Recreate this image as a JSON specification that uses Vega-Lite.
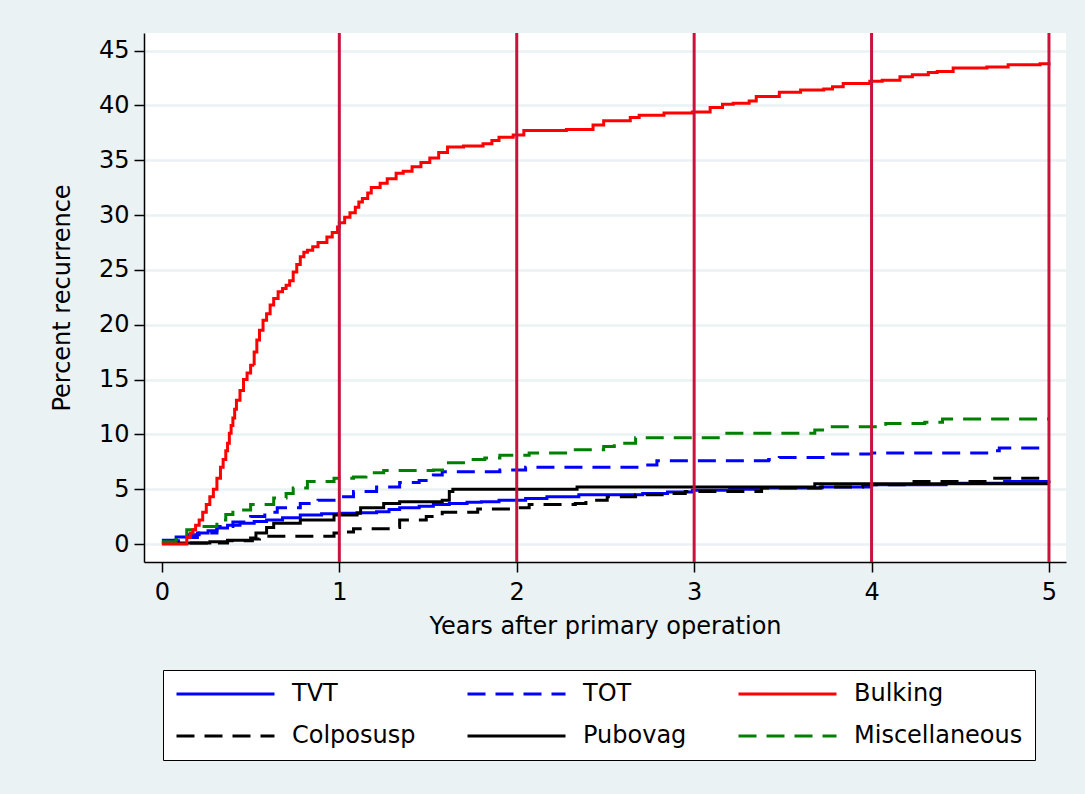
{
  "$schema": "https://vega.github.io/schema/vega-lite/v6.json",
  "autosize": {"type": "none"},
  "width": 922,
  "height": 529,
  "padding": {"left": 144, "top": 33, "right": 19, "bottom": 232},
  "background": "#eaf2f3",
  "config": {
    "view": {"fill": "white", "stroke": null},
    "font": "DejaVu Sans",
    "axis": {
      "labelFont": "DejaVu Sans", "titleFont": "DejaVu Sans",
      "labelFontSize": 24, "titleFontSize": 24, "titleFontWeight": "normal",
      "labelColor": "#000", "titleColor": "#000",
      "domainColor": "#000", "domainWidth": 1.5, "tickColor": "#000", "tickWidth": 1.5, "tickSize": 10
    },
    "legend": {"labelFont": "DejaVu Sans", "labelFontSize": 24, "labelColor": "#000"}
  },
  "datasets": {
    "curves": [
      {"g": "TVT", "t": 0, "v": 0.35}, {"g": "TVT", "t": 0.08, "v": 0.65}, {"g": "TVT", "t": 0.15, "v": 0.85}, {"g": "TVT", "t": 0.21, "v": 1.0}, {"g": "TVT", "t": 0.26, "v": 1.2}, {"g": "TVT", "t": 0.31, "v": 1.45}, {"g": "TVT", "t": 0.37, "v": 1.7}, {"g": "TVT", "t": 0.44, "v": 1.9}, {"g": "TVT", "t": 0.52, "v": 2.05}, {"g": "TVT", "t": 0.59, "v": 2.2}, {"g": "TVT", "t": 0.68, "v": 2.4}, {"g": "TVT", "t": 0.78, "v": 2.65}, {"g": "TVT", "t": 0.9, "v": 2.75}, {"g": "TVT", "t": 1.0, "v": 2.8}, {"g": "TVT", "t": 1.1, "v": 2.85}, {"g": "TVT", "t": 1.21, "v": 2.95}, {"g": "TVT", "t": 1.28, "v": 3.15}, {"g": "TVT", "t": 1.34, "v": 3.3}, {"g": "TVT", "t": 1.45, "v": 3.45}, {"g": "TVT", "t": 1.53, "v": 3.6}, {"g": "TVT", "t": 1.62, "v": 3.7}, {"g": "TVT", "t": 1.72, "v": 3.8}, {"g": "TVT", "t": 1.8, "v": 3.85}, {"g": "TVT", "t": 1.9, "v": 4.0}, {"g": "TVT", "t": 2.05, "v": 4.15}, {"g": "TVT", "t": 2.17, "v": 4.3}, {"g": "TVT", "t": 2.35, "v": 4.5}, {"g": "TVT", "t": 2.71, "v": 4.6}, {"g": "TVT", "t": 2.85, "v": 4.75}, {"g": "TVT", "t": 2.99, "v": 4.9}, {"g": "TVT", "t": 3.2, "v": 5.0}, {"g": "TVT", "t": 3.38, "v": 5.1}, {"g": "TVT", "t": 3.72, "v": 5.2}, {"g": "TVT", "t": 4.0, "v": 5.4}, {"g": "TVT", "t": 4.42, "v": 5.55}, {"g": "TVT", "t": 4.75, "v": 5.7}, {"g": "TVT", "t": 5.0, "v": 5.8},
      {"g": "TOT", "t": 0, "v": 0.3}, {"g": "TOT", "t": 0.12, "v": 0.6}, {"g": "TOT", "t": 0.2, "v": 1.0}, {"g": "TOT", "t": 0.31, "v": 1.6}, {"g": "TOT", "t": 0.4, "v": 2.0}, {"g": "TOT", "t": 0.5, "v": 2.5}, {"g": "TOT", "t": 0.58, "v": 2.9}, {"g": "TOT", "t": 0.65, "v": 3.3}, {"g": "TOT", "t": 0.78, "v": 3.7}, {"g": "TOT", "t": 0.88, "v": 4.0}, {"g": "TOT", "t": 0.97, "v": 4.3}, {"g": "TOT", "t": 1.08, "v": 4.8}, {"g": "TOT", "t": 1.21, "v": 5.2}, {"g": "TOT", "t": 1.34, "v": 5.6}, {"g": "TOT", "t": 1.45, "v": 5.8}, {"g": "TOT", "t": 1.53, "v": 6.3}, {"g": "TOT", "t": 1.58, "v": 6.6}, {"g": "TOT", "t": 1.905, "v": 6.75}, {"g": "TOT", "t": 2.05, "v": 7.0}, {"g": "TOT", "t": 2.73, "v": 7.2}, {"g": "TOT", "t": 2.79, "v": 7.6}, {"g": "TOT", "t": 3.42, "v": 7.7}, {"g": "TOT", "t": 3.48, "v": 7.9}, {"g": "TOT", "t": 3.78, "v": 8.2}, {"g": "TOT", "t": 4.0, "v": 8.3}, {"g": "TOT", "t": 4.68, "v": 8.5}, {"g": "TOT", "t": 4.72, "v": 8.75}, {"g": "TOT", "t": 5.0, "v": 8.75},
      {"g": "Colposusp", "t": 0, "v": 0.1}, {"g": "Colposusp", "t": 0.37, "v": 0.3}, {"g": "Colposusp", "t": 0.51, "v": 0.45}, {"g": "Colposusp", "t": 0.55, "v": 0.7}, {"g": "Colposusp", "t": 0.97, "v": 1.0}, {"g": "Colposusp", "t": 1.02, "v": 1.1}, {"g": "Colposusp", "t": 1.08, "v": 1.4}, {"g": "Colposusp", "t": 1.29, "v": 1.5}, {"g": "Colposusp", "t": 1.34, "v": 2.2}, {"g": "Colposusp", "t": 1.49, "v": 2.5}, {"g": "Colposusp", "t": 1.58, "v": 2.9}, {"g": "Colposusp", "t": 1.78, "v": 3.2}, {"g": "Colposusp", "t": 2.0, "v": 3.3}, {"g": "Colposusp", "t": 2.07, "v": 3.6}, {"g": "Colposusp", "t": 2.33, "v": 3.7}, {"g": "Colposusp", "t": 2.39, "v": 4.0}, {"g": "Colposusp", "t": 2.51, "v": 4.3}, {"g": "Colposusp", "t": 2.67, "v": 4.5}, {"g": "Colposusp", "t": 2.83, "v": 4.6}, {"g": "Colposusp", "t": 2.95, "v": 4.8}, {"g": "Colposusp", "t": 3.38, "v": 5.1}, {"g": "Colposusp", "t": 3.71, "v": 5.2}, {"g": "Colposusp", "t": 3.95, "v": 5.4}, {"g": "Colposusp", "t": 4.22, "v": 5.7}, {"g": "Colposusp", "t": 4.68, "v": 6.0}, {"g": "Colposusp", "t": 5.0, "v": 6.0},
      {"g": "Pubovag", "t": 0, "v": 0.1}, {"g": "Pubovag", "t": 0.27, "v": 0.2}, {"g": "Pubovag", "t": 0.37, "v": 0.35}, {"g": "Pubovag", "t": 0.5, "v": 0.55}, {"g": "Pubovag", "t": 0.53, "v": 1.0}, {"g": "Pubovag", "t": 0.59, "v": 1.5}, {"g": "Pubovag", "t": 0.63, "v": 1.9}, {"g": "Pubovag", "t": 0.78, "v": 2.2}, {"g": "Pubovag", "t": 0.97, "v": 2.65}, {"g": "Pubovag", "t": 1.1, "v": 2.8}, {"g": "Pubovag", "t": 1.12, "v": 3.3}, {"g": "Pubovag", "t": 1.25, "v": 3.7}, {"g": "Pubovag", "t": 1.34, "v": 3.85}, {"g": "Pubovag", "t": 1.58, "v": 4.0}, {"g": "Pubovag", "t": 1.62, "v": 4.8}, {"g": "Pubovag", "t": 1.64, "v": 5.0}, {"g": "Pubovag", "t": 2.34, "v": 5.2}, {"g": "Pubovag", "t": 3.68, "v": 5.5}, {"g": "Pubovag", "t": 5.0, "v": 5.5},
      {"g": "Miscellaneous", "t": 0, "v": 0.2}, {"g": "Miscellaneous", "t": 0.08, "v": 0.6}, {"g": "Miscellaneous", "t": 0.14, "v": 1.3}, {"g": "Miscellaneous", "t": 0.21, "v": 1.6}, {"g": "Miscellaneous", "t": 0.31, "v": 2.2}, {"g": "Miscellaneous", "t": 0.36, "v": 2.7}, {"g": "Miscellaneous", "t": 0.4, "v": 3.1}, {"g": "Miscellaneous", "t": 0.5, "v": 3.6}, {"g": "Miscellaneous", "t": 0.63, "v": 4.2}, {"g": "Miscellaneous", "t": 0.7, "v": 4.6}, {"g": "Miscellaneous", "t": 0.74, "v": 5.1}, {"g": "Miscellaneous", "t": 0.82, "v": 5.7}, {"g": "Miscellaneous", "t": 0.97, "v": 6.0}, {"g": "Miscellaneous", "t": 1.08, "v": 6.1}, {"g": "Miscellaneous", "t": 1.15, "v": 6.5}, {"g": "Miscellaneous", "t": 1.25, "v": 6.7}, {"g": "Miscellaneous", "t": 1.53, "v": 6.75}, {"g": "Miscellaneous", "t": 1.6, "v": 7.4}, {"g": "Miscellaneous", "t": 1.72, "v": 7.7}, {"g": "Miscellaneous", "t": 1.82, "v": 7.85}, {"g": "Miscellaneous", "t": 1.905, "v": 8.1}, {"g": "Miscellaneous", "t": 2.07, "v": 8.3}, {"g": "Miscellaneous", "t": 2.31, "v": 8.6}, {"g": "Miscellaneous", "t": 2.49, "v": 8.9}, {"g": "Miscellaneous", "t": 2.55, "v": 9.2}, {"g": "Miscellaneous", "t": 2.67, "v": 9.7}, {"g": "Miscellaneous", "t": 2.99, "v": 9.7}, {"g": "Miscellaneous", "t": 3.15, "v": 10.1}, {"g": "Miscellaneous", "t": 3.68, "v": 10.4}, {"g": "Miscellaneous", "t": 3.76, "v": 10.7}, {"g": "Miscellaneous", "t": 4.0, "v": 10.7}, {"g": "Miscellaneous", "t": 4.08, "v": 11.0}, {"g": "Miscellaneous", "t": 4.3, "v": 11.1}, {"g": "Miscellaneous", "t": 4.4, "v": 11.4}, {"g": "Miscellaneous", "t": 5.0, "v": 11.4},
      {"g": "Bulking", "t": 0, "v": 0}, {"g": "Bulking", "t": 0.12, "v": 0}, {"g": "Bulking", "t": 0.14, "v": 0.6}, {"g": "Bulking", "t": 0.16, "v": 1.0}, {"g": "Bulking", "t": 0.175, "v": 1.3}, {"g": "Bulking", "t": 0.19, "v": 1.7}, {"g": "Bulking", "t": 0.21, "v": 2.2}, {"g": "Bulking", "t": 0.23, "v": 2.9}, {"g": "Bulking", "t": 0.25, "v": 3.6}, {"g": "Bulking", "t": 0.27, "v": 4.3}, {"g": "Bulking", "t": 0.29, "v": 5.0}, {"g": "Bulking", "t": 0.31, "v": 6.0}, {"g": "Bulking", "t": 0.33, "v": 7.0}, {"g": "Bulking", "t": 0.345, "v": 7.7}, {"g": "Bulking", "t": 0.36, "v": 8.5}, {"g": "Bulking", "t": 0.37, "v": 9.2}, {"g": "Bulking", "t": 0.38, "v": 10.1}, {"g": "Bulking", "t": 0.39, "v": 10.8}, {"g": "Bulking", "t": 0.4, "v": 11.5}, {"g": "Bulking", "t": 0.41, "v": 12.3}, {"g": "Bulking", "t": 0.42, "v": 13.1}, {"g": "Bulking", "t": 0.44, "v": 14.0}, {"g": "Bulking", "t": 0.46, "v": 15.0}, {"g": "Bulking", "t": 0.48, "v": 15.6}, {"g": "Bulking", "t": 0.5, "v": 16.3}, {"g": "Bulking", "t": 0.52, "v": 17.5}, {"g": "Bulking", "t": 0.535, "v": 18.6}, {"g": "Bulking", "t": 0.55, "v": 19.5}, {"g": "Bulking", "t": 0.57, "v": 20.4}, {"g": "Bulking", "t": 0.59, "v": 21.0}, {"g": "Bulking", "t": 0.61, "v": 21.8}, {"g": "Bulking", "t": 0.63, "v": 22.4}, {"g": "Bulking", "t": 0.655, "v": 23.0}, {"g": "Bulking", "t": 0.68, "v": 23.3}, {"g": "Bulking", "t": 0.7, "v": 23.6}, {"g": "Bulking", "t": 0.72, "v": 24.0}, {"g": "Bulking", "t": 0.74, "v": 24.8}, {"g": "Bulking", "t": 0.76, "v": 25.5}, {"g": "Bulking", "t": 0.78, "v": 26.2}, {"g": "Bulking", "t": 0.8, "v": 26.6}, {"g": "Bulking", "t": 0.82, "v": 26.8}, {"g": "Bulking", "t": 0.85, "v": 27.1}, {"g": "Bulking", "t": 0.88, "v": 27.5}, {"g": "Bulking", "t": 0.93, "v": 28.0}, {"g": "Bulking", "t": 0.96, "v": 28.4}, {"g": "Bulking", "t": 0.99, "v": 28.9}, {"g": "Bulking", "t": 1.0, "v": 29.3}, {"g": "Bulking", "t": 1.03, "v": 29.8}, {"g": "Bulking", "t": 1.06, "v": 30.2}, {"g": "Bulking", "t": 1.09, "v": 30.7}, {"g": "Bulking", "t": 1.11, "v": 31.2}, {"g": "Bulking", "t": 1.13, "v": 31.5}, {"g": "Bulking", "t": 1.16, "v": 32.0}, {"g": "Bulking", "t": 1.18, "v": 32.5}, {"g": "Bulking", "t": 1.23, "v": 32.9}, {"g": "Bulking", "t": 1.27, "v": 33.3}, {"g": "Bulking", "t": 1.32, "v": 33.8}, {"g": "Bulking", "t": 1.36, "v": 34.0}, {"g": "Bulking", "t": 1.41, "v": 34.4}, {"g": "Bulking", "t": 1.46, "v": 34.8}, {"g": "Bulking", "t": 1.51, "v": 35.2}, {"g": "Bulking", "t": 1.56, "v": 35.7}, {"g": "Bulking", "t": 1.61, "v": 36.2}, {"g": "Bulking", "t": 1.7, "v": 36.3}, {"g": "Bulking", "t": 1.81, "v": 36.5}, {"g": "Bulking", "t": 1.86, "v": 36.8}, {"g": "Bulking", "t": 1.9, "v": 37.1}, {"g": "Bulking", "t": 1.98, "v": 37.3}, {"g": "Bulking", "t": 2.04, "v": 37.7}, {"g": "Bulking", "t": 2.28, "v": 37.8}, {"g": "Bulking", "t": 2.43, "v": 38.2}, {"g": "Bulking", "t": 2.49, "v": 38.6}, {"g": "Bulking", "t": 2.64, "v": 38.9}, {"g": "Bulking", "t": 2.69, "v": 39.1}, {"g": "Bulking", "t": 2.83, "v": 39.3}, {"g": "Bulking", "t": 2.99, "v": 39.4}, {"g": "Bulking", "t": 3.09, "v": 39.8}, {"g": "Bulking", "t": 3.16, "v": 40.1}, {"g": "Bulking", "t": 3.22, "v": 40.2}, {"g": "Bulking", "t": 3.31, "v": 40.4}, {"g": "Bulking", "t": 3.35, "v": 40.8}, {"g": "Bulking", "t": 3.48, "v": 41.2}, {"g": "Bulking", "t": 3.6, "v": 41.4}, {"g": "Bulking", "t": 3.73, "v": 41.5}, {"g": "Bulking", "t": 3.78, "v": 41.7}, {"g": "Bulking", "t": 3.84, "v": 42.0}, {"g": "Bulking", "t": 3.99, "v": 42.2}, {"g": "Bulking", "t": 4.06, "v": 42.3}, {"g": "Bulking", "t": 4.16, "v": 42.6}, {"g": "Bulking", "t": 4.23, "v": 42.8}, {"g": "Bulking", "t": 4.32, "v": 43.0}, {"g": "Bulking", "t": 4.37, "v": 43.1}, {"g": "Bulking", "t": 4.46, "v": 43.4}, {"g": "Bulking", "t": 4.65, "v": 43.5}, {"g": "Bulking", "t": 4.77, "v": 43.7}, {"g": "Bulking", "t": 4.95, "v": 43.8}, {"g": "Bulking", "t": 5.0, "v": 43.9}
    ],
    "years": [{"yr": 1}, {"yr": 2}, {"yr": 3}, {"yr": 4}, {"yr": 5}]
  },
  "layer": [
    {
      "data": {"name": "curves"},
      "mark": {"type": "line", "interpolate": "step-after", "strokeWidth": 3},
      "encoding": {
        "x": {
          "field": "t", "type": "quantitative",
          "scale": {"domain": [-0.101, 5.096], "nice": false, "zero": false},
          "axis": {"values": [0, 1, 2, 3, 4, 5], "format": "d", "grid": false, "title": "Years after primary operation", "labelPadding": 8, "titlePadding": 10}
        },
        "y": {
          "field": "v", "type": "quantitative",
          "scale": {"domain": [-1.64, 46.6], "nice": false, "zero": false},
          "axis": {"values": [0, 5, 10, 15, 20, 25, 30, 35, 40, 45], "format": "d", "grid": true, "gridColor": "#eaf2f3", "gridWidth": 2.5, "title": "Percent recurrence", "labelPadding": 5, "titlePadding": 24}
        },
        "color": {
          "field": "g", "type": "nominal",
          "scale": {"domain": ["TVT", "TOT", "Bulking", "Colposusp", "Pubovag", "Miscellaneous"], "range": ["#0000ff", "#0000ff", "#ff0000", "#000000", "#000000", "#008000"]},
          "legend": {
            "orient": "none", "legendX": 19, "legendY": 637, "columns": 3, "direction": "horizontal", "title": null,
            "symbolType": "stroke", "symbolSize": 9604, "symbolStrokeWidth": 3, "clipHeight": 24,
            "labelOffset": 16, "labelLimit": 400, "columnPadding": 50, "rowPadding": 18, "padding": 12,
            "fillColor": "white", "strokeColor": "#000"
          }
        },
        "strokeDash": {
          "field": "g", "type": "nominal",
          "scale": {"domain": ["TVT", "TOT", "Bulking", "Colposusp", "Pubovag", "Miscellaneous"], "range": [[1, 0], [18, 10], [1, 0], [18, 10], [1, 0], [18, 10]]},
          "legend": {
            "orient": "none", "legendX": 19, "legendY": 637, "columns": 3, "direction": "horizontal", "title": null,
            "symbolType": "stroke", "symbolSize": 9604, "symbolStrokeWidth": 3, "clipHeight": 24,
            "labelOffset": 16, "labelLimit": 400, "columnPadding": 50, "rowPadding": 18, "padding": 12,
            "fillColor": "white", "strokeColor": "#000"
          }
        },
        "order": {"field": "t", "type": "quantitative"}
      }
    },
    {
      "data": {"name": "years"},
      "mark": {"type": "rule", "color": "#c8143c", "strokeWidth": 3},
      "encoding": {"x": {"field": "yr", "type": "quantitative"}}
    }
  ]
}
